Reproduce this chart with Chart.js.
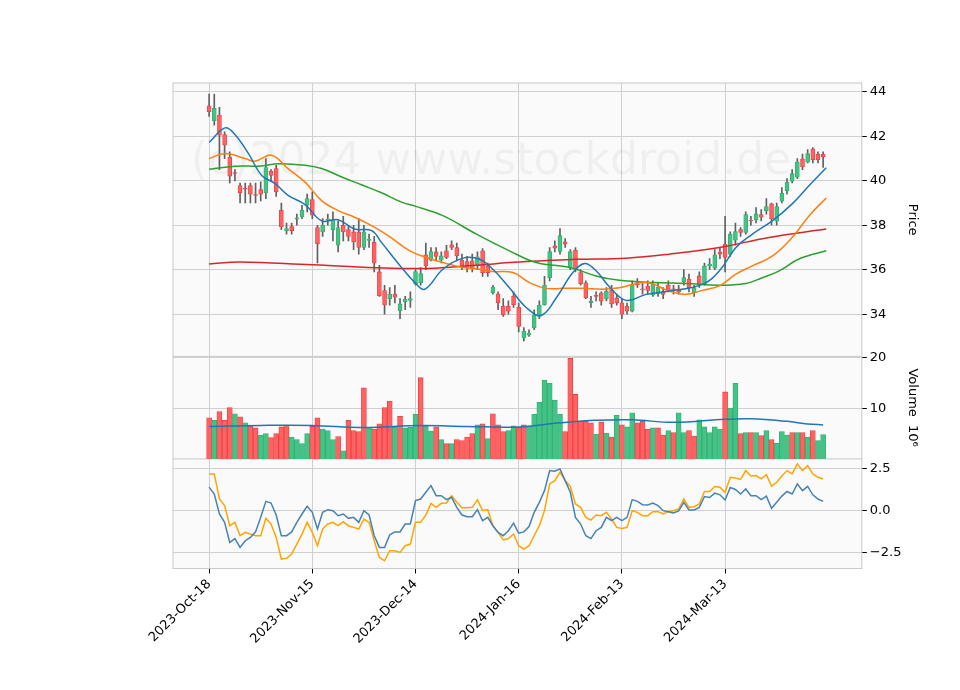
<!DOCTYPE html>
<html>
<head>
<meta charset="utf-8">
<script src="https://cdn.jsdelivr.net/npm/chart.js@4"></script>
<style>
  html, body { margin: 0; padding: 0; background: #fff; }
  #wrap { width: 960px; height: 690px; }
</style>
</head>
<body>
<div id="wrap"><canvas id="chart" width="960" height="690"></canvas></div>
<script>
// trading day index -> label (every 20 sessions)
const tickIdx = [0, 20, 40, 60, 80, 100];
const tickLabels = ["2023-Oct-18", "2023-Nov-15", "2023-Dec-14", "2024-Jan-16", "2024-Feb-13", "2024-Mar-13"];

const open = [43.37,42.7,42.96,42.08,41.07,40.35,39.79,39.66,39.79,39.36,39.6,39.45,40.43,40.55,38.67,37.75,37.94,38.27,38.37,38.9,
  39.15,37.9,37.7,38.27,37.8,37.1,38.0,37.8,37.7,37.7,37.0,37.32,37.23,35.9,35.06,34.7,34.9,34.16,34.56,34.62,
  35.37,35.41,36.67,36.43,36.8,36.44,36.85,37.12,37.0,36.43,36.37,36.4,36.17,36.85,36.17,34.96,34.92,34.36,34.36,34.81,
  34.31,32.93,33.05,33.38,33.9,34.43,35.64,37.07,36.82,37.25,36.1,36.88,35.87,35.41,34.51,34.82,34.96,34.69,35.07,34.73,
  34.51,34.36,34.13,35.42,35.11,35.26,34.86,34.92,35.0,35.31,35.11,35.07,35.46,35.57,34.96,35.72,35.34,36.17,36.07,36.78,
  37.15,36.7,37.33,37.8,37.68,38.21,38.24,38.48,38.66,38.96,38.18,39.08,39.56,39.98,40.16,40.99,40.84,41.44,41.19,41.19];
const close = [43.11,43.26,42.05,41.6,40.21,40.33,39.46,39.62,39.4,39.34,39.4,40.6,40.24,39.5,37.92,37.85,37.76,38.33,38.67,39.2,
  38.45,37.17,38.0,38.23,38.25,37.9,37.7,37.5,37.25,37.0,37.7,37.38,36.29,34.83,34.41,34.9,34.76,34.46,34.68,34.7,
  35.91,35.82,36.17,36.82,36.6,36.62,36.55,37.0,36.62,36.17,36.1,36.05,36.58,35.87,35.87,35.22,34.51,33.98,34.13,34.43,
  33.45,33.23,33.15,33.95,34.4,35.3,36.82,36.97,37.53,37.15,36.82,36.02,35.37,34.73,34.58,34.8,34.58,35.04,34.46,34.51,
  34.0,34.13,35.33,35.31,35.09,35.07,35.34,35.22,34.89,35.07,35.09,35.0,35.64,35.19,35.19,35.31,36.17,36.25,36.67,36.7,
  36.55,37.6,37.72,37.68,38.48,38.19,38.51,38.36,38.84,38.28,38.84,39.44,39.94,40.32,40.84,40.62,41.22,40.95,40.95,41.07];
const high = [43.9,43.9,43.3,42.2,41.3,40.5,39.9,39.9,39.9,39.9,39.95,41.0,40.5,40.7,39.0,38.1,38.1,38.5,38.9,39.4,
  39.5,38.0,38.3,38.5,38.6,38.2,38.4,38.0,38.0,38.3,38.0,37.6,37.5,36.2,35.3,35.2,35.3,34.7,34.8,35.0,
  36.0,36.1,37.2,37.0,37.0,36.8,37.1,37.3,37.2,36.7,36.6,36.7,36.8,36.95,36.3,35.3,35.0,34.7,34.6,35.0,
  34.5,33.4,33.3,34.2,34.6,35.7,37.0,37.3,37.85,37.4,36.9,37.0,36.0,35.5,34.8,35.0,35.0,35.2,35.3,34.9,
  34.7,34.5,35.5,35.6,35.4,35.5,35.5,35.4,35.2,35.5,35.3,35.3,36.0,35.8,35.3,35.9,36.3,36.5,36.9,37.0,
  38.4,37.7,38.1,37.9,38.6,38.4,38.8,38.7,39.2,39.0,39.0,39.7,40.1,40.5,41.0,41.2,41.4,41.5,41.3,41.3];
const low = [42.9,42.5,40.5,41.0,39.9,40.0,39.0,39.0,39.0,39.0,39.1,39.2,40.0,39.3,37.8,37.6,37.6,38.0,38.3,38.6,
  38.3,36.3,37.5,38.0,37.3,36.8,37.3,37.3,36.9,36.7,36.9,37.0,35.9,34.8,34.0,34.4,34.5,33.8,34.2,34.3,
  35.3,35.3,36.0,36.4,36.4,36.3,36.5,36.9,36.4,36.0,35.9,35.9,36.0,35.7,35.7,34.9,34.2,33.9,34.0,34.3,
  33.2,32.8,33.0,33.3,33.8,34.4,35.5,36.8,36.7,37.0,36.0,35.9,35.3,34.7,34.3,34.6,34.4,34.6,34.3,34.4,
  33.8,34.0,34.1,35.2,34.9,34.9,34.8,34.8,34.7,35.0,34.9,34.9,35.3,35.0,34.8,35.2,35.3,36.0,36.0,36.5,
  35.9,36.6,37.1,37.5,37.6,38.0,38.1,38.2,38.5,38.0,38.0,39.0,39.4,39.9,40.1,40.5,40.8,40.8,40.8,40.6];

// volume in millions, and up(1)/down(0) colouring of each volume bar
const volume = [8.1,7.6,9.3,7.6,10.1,8.9,8.3,7.1,6.5,6.1,4.7,5.0,4.2,5.0,6.3,6.6,4.3,3.8,3.0,5.0,
  6.4,8.1,5.9,5.6,3.8,4.4,1.6,7.6,5.6,5.4,14.0,6.2,5.9,6.9,10.1,11.4,6.2,8.4,6.1,6.2,
  8.8,16.0,6.5,5.5,6.3,3.8,3.0,3.0,3.8,3.6,4.3,5.0,6.7,6.9,4.0,8.9,6.7,5.4,5.6,6.5,
  6.2,6.7,6.5,8.8,11.2,15.5,14.9,11.6,8.8,5.4,19.8,12.7,7.4,7.4,7.1,4.9,7.3,5.1,4.3,8.6,
  6.7,6.3,9.1,7.1,7.4,5.9,6.1,6.1,4.7,5.6,5.2,9.1,5.2,5.6,4.5,7.7,6.3,5.2,6.3,5.9,
  13.2,10.0,14.9,5.0,5.2,5.2,5.2,4.6,5.6,3.8,3.1,5.4,4.7,5.2,5.2,5.2,4.3,5.6,3.6,4.8];
const volUp = [0,1,0,0,0,1,0,1,0,0,1,1,0,0,0,0,1,1,1,1,
  0,0,1,1,1,0,1,0,0,0,0,1,0,0,0,0,1,0,1,1,
  1,0,1,1,0,1,0,1,0,0,0,0,1,0,1,0,0,0,1,1,
  0,0,1,1,1,1,1,1,1,0,0,0,0,0,0,1,0,1,0,1,
  0,1,1,0,0,0,1,0,0,1,0,1,1,0,0,1,1,1,1,1,
  0,1,1,0,1,0,1,0,1,0,1,1,1,0,1,0,1,0,1,1];
const volMaX = [0,10,20,30,41,50,60,68,75,82,90,100,105,112,116,119];
const volMaY = [6.4,6.6,6.6,6.2,6.6,6.4,6.3,7.1,7.6,7.7,7.2,7.8,7.9,7.4,6.9,6.7];

// moving averages
const maBlueX = [0,3.1,5,7.6,10.2,12.8,15.3,18.6,21.8,25,28.2,31.5,33.4,37.3,39.9,41.8,45.3,49.2,52.4,55,58.2,61.5,64.4,67.3,70.5,72.8,75,77.6,80.8,84.7,89.2,95.6,98.9,102.1,105.3,109.2,113,116.3,119.6];
const maBlueY = [41.72,42.38,42.08,41.23,40.24,39.87,39.34,38.93,38.2,38.25,37.83,37.76,37.23,36.1,35.42,35.12,36.02,36.52,36.47,36.02,35.19,34.29,33.95,34.74,35.87,36.28,35.95,35.22,34.62,34.89,35.04,35.34,35.95,37.0,37.6,38.21,38.96,39.79,40.59];
const maOrangeX = [0,3.1,7,8.9,12.1,15.3,18.6,21.8,25,28.2,31.5,34.7,38.9,42.1,45.3,49.2,52.4,55,58.9,62.1,65.3,68.6,72.4,76.3,79.5,84.7,89.2,92.4,95.6,98.9,102.1,105.3,109.2,113,116.3,119.6];
const maOrangeY = [41.0,41.23,41.0,40.88,41.15,40.55,39.94,39.11,38.66,38.36,37.98,37.53,36.85,36.55,36.32,36.1,36.02,35.92,35.87,35.42,35.16,35.16,35.16,35.12,35.19,35.42,35.04,34.89,35.07,35.27,35.8,36.17,36.62,37.45,38.43,39.23];
const maGreenX = [0,5,10.2,13.4,18.6,21.8,25.7,29.5,33.4,37.3,39.9,45.3,51.8,58.2,63.4,69.9,75,79.5,86,92.4,98.9,104,107.2,110.5,114.3,119.6];
const maGreenY = [40.52,40.65,40.67,40.77,40.7,40.55,40.17,39.82,39.46,39.04,38.86,38.43,37.6,36.85,36.32,36.1,35.72,35.52,35.42,35.38,35.3,35.38,35.64,35.95,36.48,36.85];
const maRedX = [0,6,20,40,51.8,58.2,64.7,71.1,80.8,89.2,98.9,108.5,119.6];
const maRedY = [36.26,36.35,36.22,36.05,36.2,36.32,36.4,36.47,36.52,36.7,37.0,37.45,37.83];

// lower oscillator panel
const oscBlue = [1.41,1.0,-0.2,-0.7,-1.9,-1.67,-2.2,-1.8,-1.6,-1.27,-0.4,0.56,0.46,-0.26,-1.5,-1.5,-1.27,-0.7,-0.2,0.26,
  -0.1,-1.1,-0.1,0.06,0,-0.3,-0.2,-0.46,-0.4,-0.7,0,-0.26,-1.5,-2.2,-2.2,-1.45,-1.27,-1.27,-0.8,-0.8,
  0.6,0.7,1.1,1.5,0.9,0.9,0.66,0.8,0.2,-0.26,-0.36,-0.36,0.06,-0.6,-0.4,-0.9,-1.3,-1.5,-1.2,-0.75,
  -1.35,-1.27,-0.95,-0.1,0.5,1.2,2.4,2.36,2.5,1.8,1.1,-0.4,-0.8,-1.5,-1.67,-1.2,-1.0,-0.4,-0.6,-0.4,
  -0.6,-0.4,0.66,0.56,0.36,0.34,0.46,0.3,0,-0.06,-0.14,-0.02,0.5,0.04,0.04,0.2,0.85,0.79,1.05,0.95,
  0.64,1.39,1.27,1.0,1.3,0.9,0.9,0.66,0.87,0.14,0.5,0.87,1.15,1.0,1.6,1.2,1.45,0.95,0.7,0.56];
const oscOrange = [2.2,2.2,0.7,0.3,-0.9,-0.7,-1.5,-1.3,-1.4,-1.5,-1.5,-0.46,-0.8,-1.6,-2.9,-2.85,-2.6,-2.0,-1.4,-0.7,
  -1.3,-2.1,-1.1,-0.8,-0.7,-0.9,-0.66,-0.9,-1.0,-1.1,-0.5,-0.7,-1.8,-2.8,-3.0,-2.4,-2.4,-2.5,-2.1,-2.0,
  -0.7,-0.7,-0.26,0.44,0.2,0.44,0.46,0.9,0.5,0.18,0.18,0.2,0.66,0,0.06,-0.9,-1.3,-1.75,-1.67,-1.4,
  -2.1,-2.3,-2.1,-1.5,-0.9,0,1.6,1.8,2.3,1.8,1.45,0.4,0.2,-0.4,-0.56,-0.26,-0.3,-0.1,-0.5,-1.0,
  -1.07,-1.0,0,-0.1,-0.3,-0.3,-0.06,-0.06,-0.2,-0.06,0,0.1,0.7,0.2,0.24,0.4,1.15,1.15,1.45,1.4,
  1.1,2.0,1.95,1.87,2.4,2.08,2.1,1.9,2.15,1.47,1.7,2.08,2.4,2.2,2.8,2.4,2.7,2.2,2.0,1.9];

const UP = "#45c386", UP_EDGE = "#2fae6e", DOWN = "#ff6262", DOWN_EDGE = "#e84040";

const pts = (xs, ys) => xs.map((x, i) => ({ x: x, y: ys[i] }));
const isUp = open.map((o, i) => close[i] > o);

function maLine(xs, ys, color, axis) {
  return {
    type: "line", data: pts(xs, ys), yAxisID: axis, borderColor: color,
    borderWidth: 1.5, pointRadius: 0, tension: 0.4, order: 0
  };
}
function oscLine(ys, color) {
  return {
    type: "line", data: ys.map((y, i) => ({ x: i, y: y })), yAxisID: "yO",
    borderColor: color, borderWidth: 1.5, pointRadius: 0, tension: 0, order: 0
  };
}

const chartBg = {
  id: "chartBg",
  beforeDraw(chart) {
    const { ctx, chartArea: a } = chart;
    ctx.save();
    ctx.fillStyle = "#fafafa";
    ctx.fillRect(a.left, a.top, a.right - a.left, a.bottom - a.top);
    ctx.restore();
  },
  beforeDatasetsDraw(chart) {
    const { ctx, chartArea: a, scales } = chart;
    ctx.save();
    ctx.fillStyle = "rgba(0,0,0,0.045)";
    ctx.font = "44px 'DejaVu Sans'";
    ctx.textAlign = "center";
    ctx.textBaseline = "middle";
    ctx.fillText("(c)2024 www.stockdroid.de", 491, 163);
    // panel borders
    ctx.strokeStyle = "#c8c8c8";
    ctx.lineWidth = 1;
    [scales.yV.top, scales.yO.top].forEach(y => {
      ctx.beginPath(); ctx.moveTo(a.left, y); ctx.lineTo(a.right, y); ctx.stroke();
    });
    ctx.strokeRect(a.left, a.top, a.right - a.left, a.bottom - a.top);
    ctx.restore();
  }
};

const axisTitle = (text) => ({
  display: true, text: text, color: "#000", padding: 0,
  font: { family: "DejaVu Sans", size: 13 }
});

new Chart(document.getElementById("chart"), {
  data: {
    datasets: [
      maLine(maBlueX, maBlueY, "#1f77b4", "yP"),
      maLine(maOrangeX, maOrangeY, "#ff7f0e", "yP"),
      maLine(maGreenX, maGreenY, "#2ca02c", "yP"),
      maLine(maRedX, maRedY, "#d62728", "yP"),
      {
        type: "bar", yAxisID: "yP", grouped: false, order: 2,
        data: low.map((l, i) => ({ x: i, y: [l, high[i]] })),
        backgroundColor: "#606060", barThickness: 1
      },
      {
        type: "bar", yAxisID: "yP", grouped: false, order: 1,
        data: open.map((o, i) => ({ x: i, y: [o, close[i]] })),
        backgroundColor: isUp.map(u => u ? UP : DOWN),
        borderColor: isUp.map(u => u ? UP_EDGE : DOWN_EDGE),
        borderWidth: 0.8, borderSkipped: false, barThickness: 4, minBarLength: 1
      },
      {
        type: "bar", yAxisID: "yV", grouped: false, order: 1,
        data: volume.map((v, i) => ({ x: i, y: v })),
        backgroundColor: volUp.map(u => u ? UP : DOWN),
        borderColor: volUp.map(u => u ? UP_EDGE : DOWN_EDGE),
        borderWidth: 0.8, barThickness: 5
      },
      maLine(volMaX, volMaY, "#1f77b4", "yV"),
      oscLine(oscBlue, "#4682b4"),
      oscLine(oscOrange, "#ffa500")
    ]
  },
  options: {
    responsive: false,
    animation: false,
    layout: { padding: { left: 173, top: 83, right: 40, bottom: 40 } },
    plugins: { legend: { display: false }, tooltip: { enabled: false } },
    scales: {
      x: {
        type: "linear", min: -7, max: 126.5, offset: false,
        afterBuildTicks: s => { s.ticks = tickIdx.map(v => ({ value: v })); },
        ticks: {
          callback: (v) => tickLabels[tickIdx.indexOf(v)],
          maxRotation: 45, minRotation: 45, color: "#000",
          font: { family: "DejaVu Sans", size: 13 }
        },
        grid: { offset: false, color: "#d0d0d0", tickColor: "#000", tickLength: 5 },
        border: { display: false }
      },
      yP: {
        position: "right", stack: "panels", stackWeight: 272, min: 32.1, max: 44.4,
        afterBuildTicks: s => { s.ticks = [34, 36, 38, 40, 42, 44].map(v => ({ value: v })); },
        ticks: { color: "#000", font: { family: "DejaVu Sans", size: 13 } },
        grid: { color: "#d0d0d0", tickColor: "#000", tickLength: 5 },
        border: { display: false },
        title: axisTitle("Price")
      },
      yV: {
        position: "right", stack: "panels", stackWeight: 102, min: 0, max: 20.2,
        afterBuildTicks: s => { s.ticks = [10, 20].map(v => ({ value: v })); },
        ticks: { color: "#000", font: { family: "DejaVu Sans", size: 13 } },
        grid: { color: "#d0d0d0", tickColor: "#000", tickLength: 5 },
        border: { display: false },
        title: axisTitle("Volume  10\u2076")
      },
      yO: {
        position: "right", stack: "panels", stackWeight: 109, min: -3.46, max: 3.1,
        afterBuildTicks: s => { s.ticks = [-2.5, 0, 2.5].map(v => ({ value: v })); },
        ticks: {
          color: "#000", font: { family: "DejaVu Sans", size: 13 },
          callback: v => (v === 0 ? "0.0" : (v < 0 ? "\u2212" + Math.abs(v).toFixed(1) : v.toFixed(1)))
        },
        grid: { color: "#d0d0d0", tickColor: "#000", tickLength: 5 },
        border: { display: false },
        title: axisTitle(" ")
      }
    }
  },
  plugins: [chartBg]
});
</script>
</body>
</html>
